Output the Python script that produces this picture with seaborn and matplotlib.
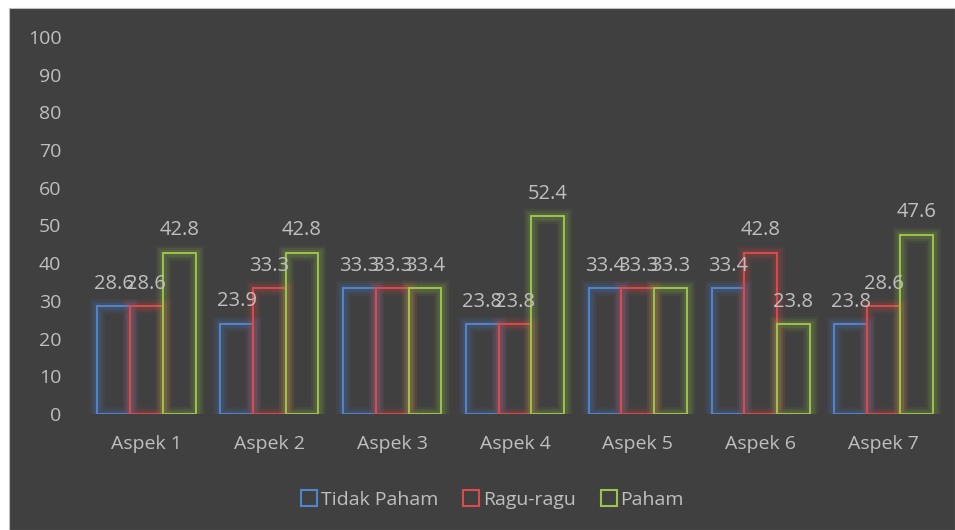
import matplotlib
matplotlib.use("Agg")
import matplotlib.pyplot as plt
import matplotlib.patheffects as pe
from matplotlib.patches import Rectangle
from matplotlib.lines import Line2D
import seaborn as sns
import pandas as pd

categories = ["Aspek 1", "Aspek 2", "Aspek 3", "Aspek 4", "Aspek 5", "Aspek 6", "Aspek 7"]
series_names = ["Tidak Paham", "Ragu-ragu", "Paham"]
tidak_paham = [28.6, 23.9, 33.3, 23.8, 33.4, 33.4, 23.8]
ragu_ragu = [28.6, 33.3, 33.3, 23.8, 33.3, 42.8, 28.6]
paham = [42.8, 42.8, 33.4, 52.4, 33.3, 23.8, 47.6]
yticks = [0, 10, 20, 30, 40, 50, 60, 70, 80, 90, 100]

colors = ["#4F86CF", "#DB4B4B", "#9CC44B"]
bg = "#404040"
txt = "#BFBFBF"

rows = []
for name, vals in zip(series_names, [tidak_paham, ragu_ragu, paham]):
    for c, v in zip(categories, vals):
        rows.append({"Aspek": c, "Seri": name, "Nilai": v})
df = pd.DataFrame(rows)

sns.set_theme(style="white")
plt.rcParams["font.family"] = ["Open Sans", "DejaVu Sans"]

fig = plt.figure(figsize=(9.55, 5.3), dpi=100, facecolor="white")
panel = Rectangle((9 / 955, 0), 1 - 9 / 955, (530 - 8) / 530,
                  transform=fig.transFigure, facecolor=bg,
                  edgecolor="#BFBFBF", linewidth=0.8, zorder=-10)
fig.add_artist(panel)
ax = fig.add_axes([85 / 955, (530 - 414) / 530, 860 / 955, 377 / 530])
ax.set_zorder(5)
ax.set_facecolor(bg)
ax.patch.set_alpha(0)

sns.barplot(data=df, x="Aspek", y="Nilai", hue="Seri", hue_order=series_names,
            palette=colors, fill=False, linewidth=1.4, width=0.8, ax=ax,
            legend=False, errorbar=None)

for container, col in zip(ax.containers, colors):
    for bar in container:
        bar.set_path_effects([
            pe.Stroke(linewidth=11, foreground=col, alpha=0.07),
            pe.Stroke(linewidth=8, foreground=col, alpha=0.09),
            pe.Stroke(linewidth=5, foreground=col, alpha=0.12),
            pe.Normal(),
        ])
    ax.bar_label(container, fmt="%.1f", padding=9, color=txt, fontsize=14.5)

ax.set_ylim(0, 100)
ax.set_xlim(-0.5, 6.5)
ax.set_yticks(yticks)
ax.set_yticklabels([str(t) for t in yticks])
ax.set_xlabel("")
ax.set_ylabel("")
for s in ax.spines.values():
    s.set_visible(False)
ax.tick_params(axis="y", colors=txt, labelsize=14, length=0, pad=17)
ax.tick_params(axis="x", colors=txt, labelsize=14, length=0, pad=15)
ax.grid(False)

handles = [Line2D([0], [0], marker="s", linestyle="none", markersize=12,
                  markerfacecolor="none", markeredgecolor=c, markeredgewidth=1.5)
           for c in colors]
leg = fig.legend(handles, series_names, loc="center", bbox_to_anchor=(0.515, 30 / 530),
                 ncol=3, frameon=False, fontsize=14, handletextpad=0.1,
                 columnspacing=1.2, handlelength=1.0)
leg.set_zorder(6)
for t in leg.get_texts():
    t.set_color(txt)

fig.savefig("out.png", dpi=100, facecolor="white")
